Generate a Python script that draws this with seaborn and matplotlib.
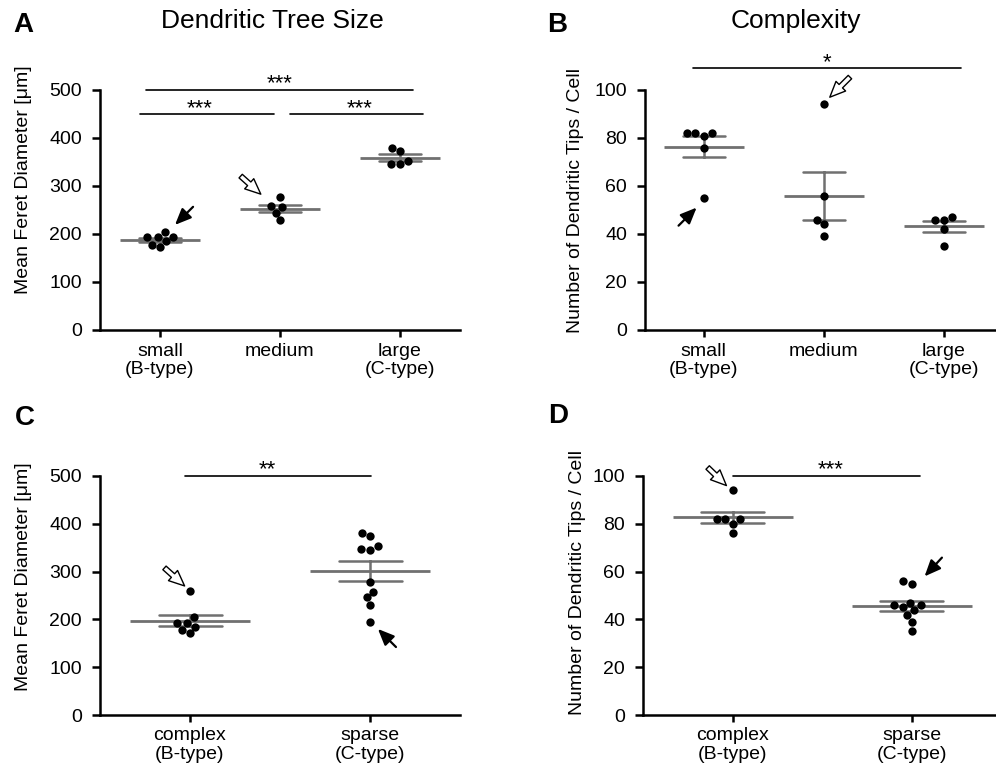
import numpy as np
import pandas as pd
import matplotlib
matplotlib.use("Agg")
import matplotlib.pyplot as plt
import seaborn as sns

# ---------------- data ----------------
size_groups = ["small\n(B-type)", "medium", "large\n(C-type)"]
size_small = [193, 204, 185, 194, 172, 178, 193]
size_medium = [259, 277, 256, 244, 229]
size_large = [380, 372, 353, 345, 346]

tips_small = [82, 81, 82, 82, 76, 55]
tips_medium = [94, 56, 46, 44, 39]
tips_large = [46, 47, 46, 42, 35]

morph_groups = ["complex\n(B-type)", "sparse\n(C-type)"]
size_complex = [260, 204, 192, 192, 185, 178, 171]
size_sparse = [381, 374, 353, 347, 345, 278, 257, 246, 230, 195]
tips_complex = [94, 82, 82, 80, 82, 76]
tips_sparse = [56, 55, 47, 46, 46, 45, 44, 42, 39, 35]

size_ticks = [0, 100, 200, 300, 400, 500]
tips_ticks = [0, 20, 40, 60, 80, 100]

# significance annotations: (x_start, x_end, y, star_x, label)
sig_A = [(-0.12, 2.11, 500, 1.0, "***"), (-0.17, 0.95, 449, 0.33, "***"), (1.08, 2.19, 449, 1.66, "***")]
sig_B = [(-0.09, 2.14, 109, 1.03, "*")]
sig_C = [(-0.03, 1.006, 500, 0.43, "**")]
sig_D = [(0.0, 1.05, 100, 0.55, "***")]

# arrows: (tip_x, tip_y, tail_dx_pt, tail_dy_pt, filled)
arr_A = [(0.125, 219, 13, 13, True), (0.84, 283, -14.5, 13, False)]
arr_B = [(-0.06, 51, -13, -13, True), (1.05, 97, 14.5, 14.5, False)]
arr_C = [(-0.03, 270, -14.5, 13, False), (1.044, 180, 13, -13, True)]
arr_D = [(-0.034, 96, -13.5, 13, False), (1.073, 58, 12.5, 13.5, True)]

GRAY = "#707070"

sns.set_style("ticks")
plt.rcParams["font.family"] = ["Liberation Sans", "DejaVu Sans"]
plt.rcParams.update({
    "axes.linewidth": 1.8,
    "axes.edgecolor": "black",
    "axes.labelcolor": "black",
    "text.color": "black",
    "xtick.color": "black",
    "ytick.color": "black",
})

fig = plt.figure(figsize=(9.96, 7.74), dpi=100)
W, H = 996.0, 774.0


def make_ax(left_px, right_px, top_px, bottom_px):
    return fig.add_axes([left_px / W, 1 - bottom_px / H, (right_px - left_px) / W, (bottom_px - top_px) / H])


def panel(ax, groups, vals, ylim, yticks, ylabel, xlim, ms, sigs, arrows, label_xy):
    df = pd.DataFrame({
        "group": np.repeat(groups, [len(v) for v in vals]),
        "value": np.concatenate([np.asarray(v, float) for v in vals]),
    })
    sns.pointplot(data=df, x="group", y="value", order=groups, errorbar="se",
                  markers="_", markersize=ms, markeredgewidth=2.0, linestyle="none",
                  capsize=0.35, color=GRAY, err_kws={"linewidth": 1.8}, ax=ax, zorder=2)
    sns.swarmplot(data=df, x="group", y="value", order=groups, color="black",
                  size=6, ax=ax, zorder=3)
    ax.set_xlim(*xlim)
    ax.set_ylim(*ylim)
    ax.set_yticks(yticks)
    ax.set_xlabel("")
    ax.set_ylabel(ylabel, fontsize=14)
    ax.yaxis.set_label_coords(*label_xy)
    sns.despine(ax=ax)
    ax.tick_params(axis="y", length=6, width=1.8, pad=7, labelsize=14, color="black", labelcolor="black")
    ax.tick_params(axis="x", length=5, width=1.8, pad=4, labelsize=14, color="black", labelcolor="black")
    for lab in ax.get_xticklabels():
        lab.set_linespacing(1.1)
        lab.set_verticalalignment("top")
    for x1, x2, y, sx, txt in sigs:
        ax.plot([x1, x2], [y, y], color="black", lw=1.2, clip_on=False, zorder=4)
        ax.annotate(txt, xy=(sx, y), xytext=(0, 0.5), textcoords="offset points",
                    ha="center", va="baseline", fontsize=16, annotation_clip=False)
    for tx, ty, dx, dy, filled in arrows:
        if filled:
            props = dict(arrowstyle="-|>,head_length=0.7,head_width=0.3", color="black",
                         lw=1.6, mutation_scale=14, shrinkA=0, shrinkB=0)
        else:
            props = dict(arrowstyle="simple,head_length=0.8,head_width=0.7,tail_width=0.25",
                         fc="white", ec="black", lw=1.0, mutation_scale=14, shrinkA=0, shrinkB=0)
        ax.annotate("", xy=(tx, ty), xytext=(dx, dy), textcoords="offset points",
                    arrowprops=props, annotation_clip=False)


axA = make_ax(100, 460, 90, 330)
panel(axA, size_groups, [size_small, size_medium, size_large], (0, 500), size_ticks,
      "Mean Feret Diameter [μm]", (-0.5, 2.5), 57, sig_A, arr_A, (-0.19, 0.625))

axB = make_ax(645, 645 + 2.99 * 120, 90, 330)
panel(axB, size_groups, [tips_small, tips_medium, tips_large], (0, 100), tips_ticks,
      "Number of Dendritic Tips / Cell", (-0.49, 2.5), 57, sig_B, arr_B, (-0.17, 0.54))

axC = make_ax(100, 460, 476, 715)
panel(axC, morph_groups, [size_complex, size_sparse], (0, 500), size_ticks,
      "Mean Feret Diameter [μm]", (-0.5, 1.5), 86, sig_C, arr_C, (-0.19, 0.58))

axD = make_ax(643, 643 + 2.0 * 179, 476, 715)
panel(axD, morph_groups, [tips_complex, tips_sparse], (0, 100), tips_ticks,
      "Number of Dendritic Tips / Cell", (-0.5, 1.5), 86, sig_D, arr_D, (-0.16, 0.556))

# titles and panel letters
fig.text(272 / W, 1 - 21 / H, "Dendritic Tree Size", ha="center", va="center", fontsize=19)
fig.text(796 / W, 1 - 21 / H, "Complexity", ha="center", va="center", fontsize=19)
for letter, x, y in [("A", 13, 32), ("B", 547, 32), ("C", 15, 425), ("D", 548, 423)]:
    fig.text(x / W, 1 - y / H, letter, ha="left", va="baseline", fontsize=20, fontweight="bold")

fig.savefig("out.png", dpi=100)
